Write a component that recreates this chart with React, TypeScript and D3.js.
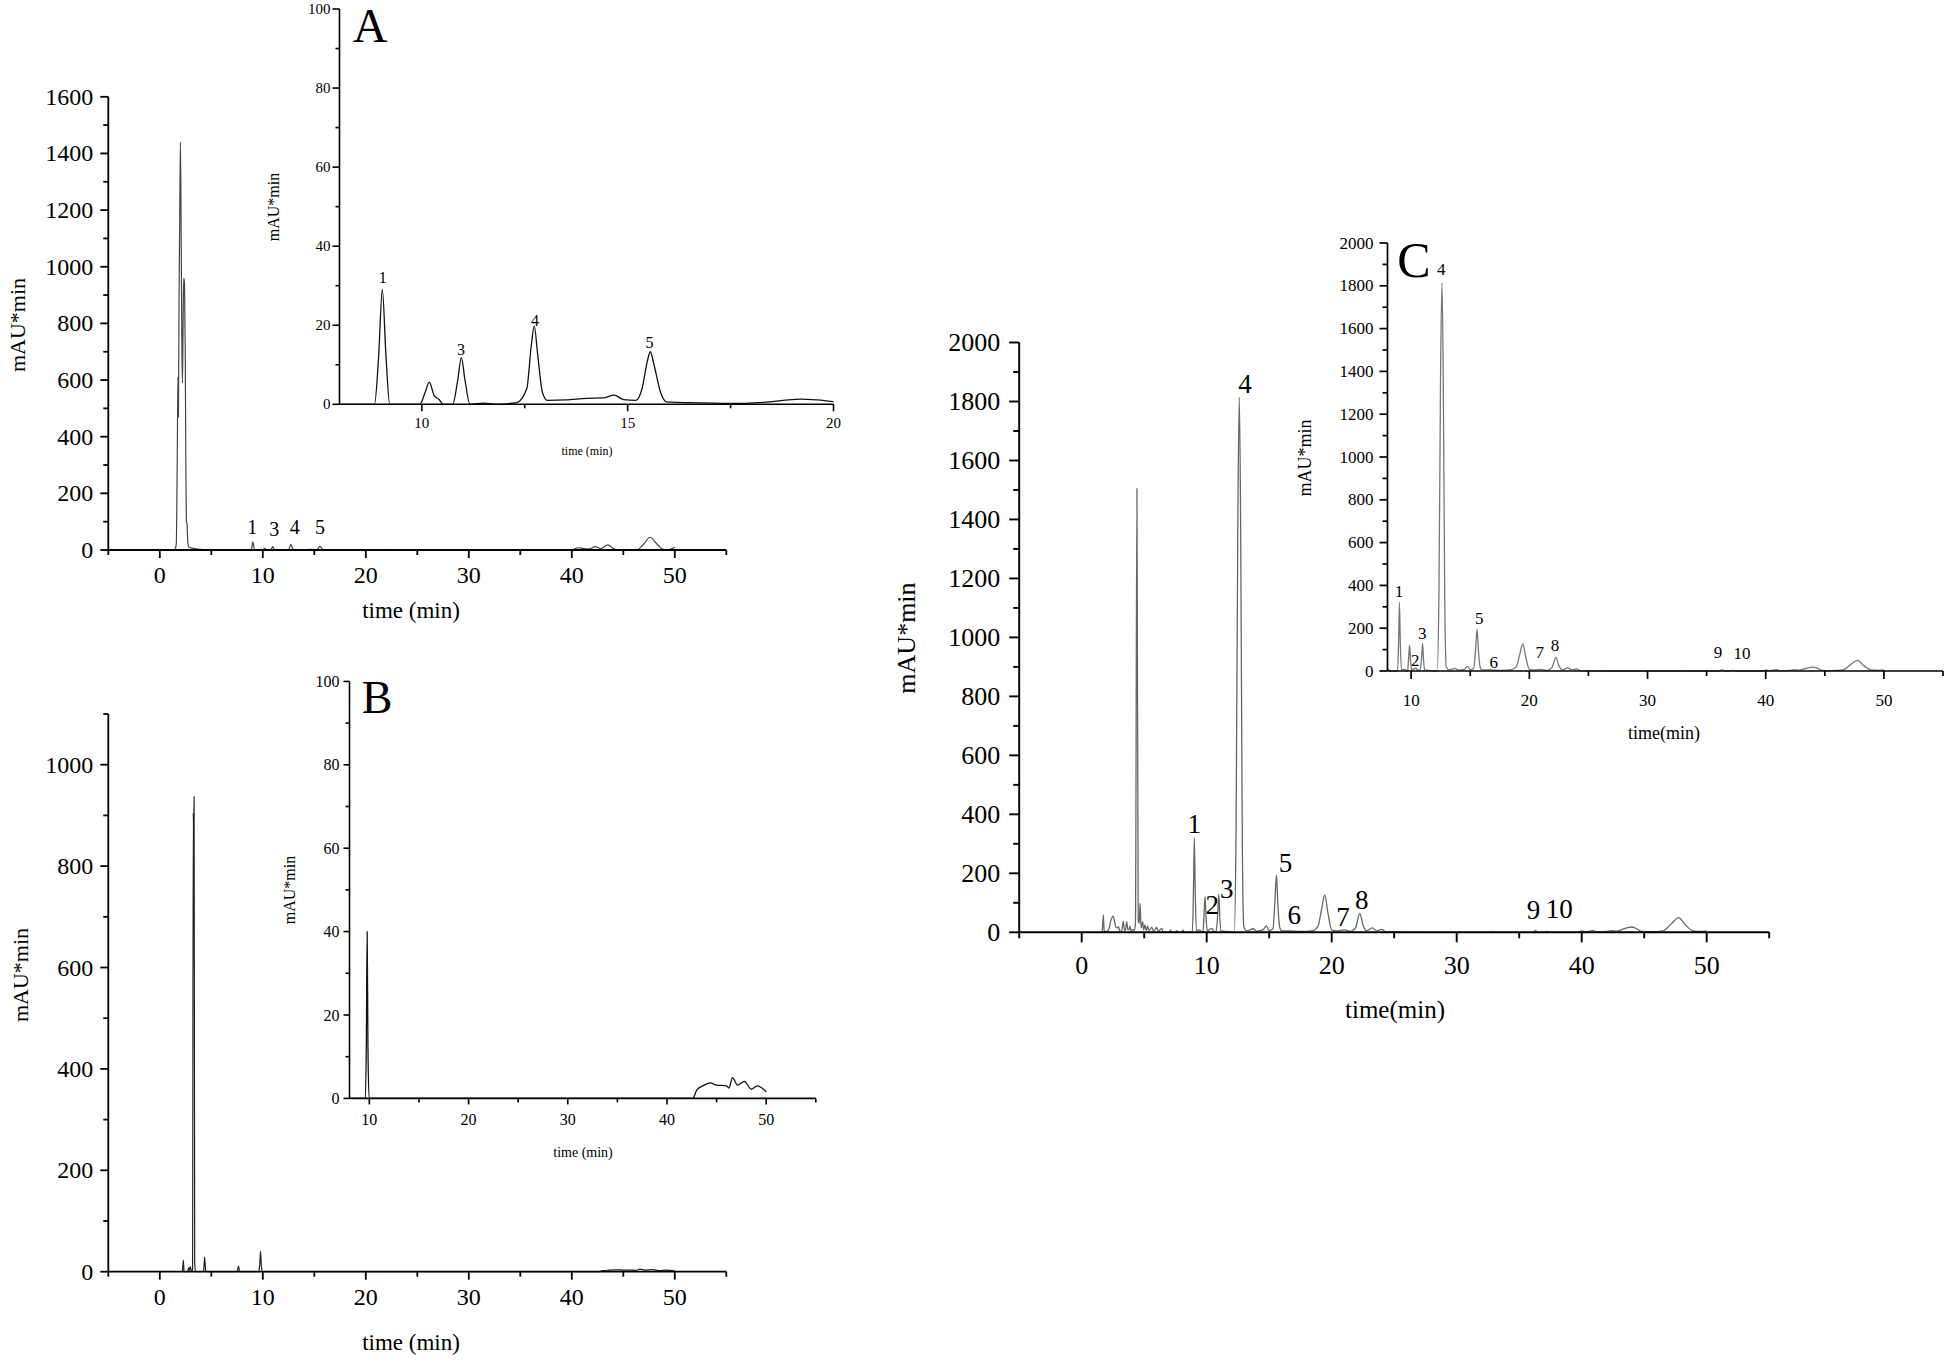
import React from "react";
import * as d3 from "d3";

type Pt = [number, number];
type PeakLabel = { text: string; t: number; v: number };

// ---------- DATA ----------
// Sample A chromatogram (time min, mAU*min)
const sampleA: Pt[] = [
  [1.45, 0], [1.6, 20], [1.7, 350], [1.76, 610], [1.81, 470], [1.87, 900], [1.93, 1150], [2.0, 1440],
  [2.05, 1250], [2.1, 960], [2.15, 700], [2.2, 590], [2.26, 800], [2.32, 960], [2.4, 940], [2.47, 700],
  [2.53, 300], [2.58, 100], [2.64, 92], [2.7, 40], [2.8, 12], [3.0, 8], [3.4, 5], [4.0, 2], [4.6, 0],
  [8.85, 0], [8.95, 12], [9.04, 29], [9.13, 12], [9.22, 0],
  [9.95, 0], [10.08, 3], [10.18, 5.6], [10.3, 2.2], [10.42, 1.2], [10.52, 0],
  [10.75, 0], [10.87, 6], [10.96, 11.8], [11.05, 6], [11.17, 0], [11.5, 0.3], [11.8, 0], [12.3, 0.4],
  [12.55, 4], [12.66, 15], [12.73, 19.8], [12.82, 12], [12.93, 3], [13.05, 1.0], [13.5, 1.1], [14.0, 1.5],
  [14.4, 1.6], [14.67, 2.3], [14.9, 1.2], [15.2, 1.0],
  [15.35, 4], [15.48, 11], [15.55, 13.3], [15.64, 10], [15.8, 3], [15.95, 0.6], [16.5, 0.4], [17.5, 0.2],
  [18.3, 0.5], [19.2, 1.3], [19.6, 1.1], [20, 0.7], [20.6, 0.3],
  [22.0, 0], [22.2, 2], [22.4, 0],
  [40.0, 0], [40.6, 8], [41.2, 5], [41.7, 4], [42.3, 12], [42.8, 5], [43.5, 18], [44.0, 6], [44.5, 0],
  [46.3, 0], [47.0, 22], [47.6, 45], [48.2, 24], [48.8, 3], [49.3, 0], [49.8, 6], [50.0, 10],
];

// Sample B chromatogram
const sampleB: Pt[] = [
  [2.2, 0], [2.28, 23], [2.36, 0], [2.7, 0], [2.8, 8], [2.88, 3], [2.97, 10], [3.08, 0], [3.18, 4],
  [3.25, 905], [3.29, 860], [3.33, 937], [3.39, 15], [3.5, 0],
  [4.25, 0], [4.35, 29], [4.45, 3], [4.55, 0],
  [7.5, 0], [7.64, 11], [7.75, 0],
  [9.6, 0], [9.7, 14], [9.78, 40], [9.86, 12], [9.98, 0],
  [42.6, 0], [43.0, 2.0], [43.6, 3.0], [44.35, 3.7], [45.0, 3.2], [46.0, 3.0], [46.25, 2.5], [46.6, 5.0],
  [47.1, 3.2], [47.8, 4.1], [48.5, 2.2], [49.1, 3.0], [50.0, 1.6],
];

// Sample C chromatogram
const sampleC: Pt[] = [
  [1.65, 0], [1.73, 59], [1.8, 3], [2.0, 3], [2.15, 8], [2.3, 35], [2.5, 55], [2.62, 40], [2.72, 18],
  [2.85, 15], [2.95, 19], [3.05, 4], [3.2, 5], [3.33, 38], [3.42, 6], [3.5, 8], [3.6, 36], [3.7, 8],
  [3.8, 10], [3.87, 21], [3.95, 5], [4.1, 10], [4.2, 6], [4.3, 30], [4.42, 1505], [4.52, 40], [4.6, 30],
  [4.67, 98], [4.75, 15], [4.88, 36], [4.95, 8], [5.07, 25], [5.15, 6], [5.28, 21], [5.38, 5], [5.6, 17],
  [5.75, 4], [6.0, 17], [6.12, 3], [6.4, 13], [6.5, 2], [6.8, 0],
  [7.0, 0], [7.1, 7], [7.2, 0], [7.5, 0], [7.6, 6], [7.7, 0], [8.0, 0], [8.1, 7], [8.2, 0],
  [8.85, 0], [8.94, 140], [9.01, 320], [9.08, 140], [9.18, 5], [9.4, 8], [9.7, 0], [9.78, 55], [9.87, 121],
  [9.96, 40], [10.06, 5], [10.25, 10], [10.4, 13], [10.55, 4], [10.75, 2], [10.88, 60], [10.97, 129],
  [11.05, 50], [11.15, 5], [11.5, 3],
  [12.2, 0], [12.35, 350], [12.5, 1450], [12.61, 1814], [12.72, 1350], [12.85, 300], [12.97, 20], [13.2, 5],
  [13.73, 12], [14.0, 4], [14.5, 8], [14.77, 22], [15.0, 6], [15.3, 12], [15.45, 100], [15.58, 194],
  [15.7, 90], [15.85, 15], [16.0, 5], [16.74, 5], [17.5, 3], [18.5, 6], [18.9, 20], [19.2, 80], [19.45, 127],
  [19.7, 65], [20.0, 8], [20.5, 5], [21.0, 8], [21.5, 3], [21.9, 15], [22.25, 64], [22.5, 25], [22.8, 5],
  [23.26, 15], [23.6, 5], [24.0, 10], [24.3, 2], [25, 1],
  [28, 0], [32.7, 0], [32.9, 2], [33.1, 0], [36.1, 0], [36.3, 6], [36.5, 0], [37.0, 0], [37.2, 3], [37.5, 0],
  [39.8, 0], [40.0, 5], [40.3, 1], [40.9, 6], [41.3, 1], [42.0, 3], [42.4, 6], [42.8, 4], [43.6, 15],
  [44.0, 18], [44.4, 12], [44.8, 3], [45.5, 2], [46.5, 5], [47.2, 30], [47.75, 50], [48.3, 25], [48.9, 5],
  [49.5, 3], [50.0, 5],
];

// Peak annotations
const labelsAMain: PeakLabel[] = [
  { text: "1", t: 8.97, v: 80 }, { text: "3", t: 11.1, v: 74 },
  { text: "4", t: 13.1, v: 82 }, { text: "5", t: 15.55, v: 82 },
];
const labelsAInset: PeakLabel[] = [
  { text: "1", t: 9.05, v: 32 }, { text: "3", t: 10.95, v: 13.8 },
  { text: "4", t: 12.75, v: 21.2 }, { text: "5", t: 15.53, v: 15.6 },
];
const labelsCMain: PeakLabel[] = [
  { text: "1", t: 9.0, v: 366 }, { text: "2", t: 10.45, v: 92 }, { text: "3", t: 11.6, v: 147 },
  { text: "4", t: 13.07, v: 1858 }, { text: "5", t: 16.3, v: 236 }, { text: "6", t: 17.0, v: 58 },
  { text: "7", t: 20.9, v: 53 }, { text: "8", t: 22.4, v: 108 }, { text: "9", t: 36.15, v: 77 },
  { text: "10", t: 38.2, v: 80 },
];
const labelsCInset: PeakLabel[] = [
  { text: "1", t: 8.98, v: 373 }, { text: "2", t: 10.34, v: 48 }, { text: "3", t: 10.95, v: 173 },
  { text: "4", t: 12.54, v: 1876 }, { text: "5", t: 15.76, v: 246 }, { text: "6", t: 17.0, v: 40 },
  { text: "7", t: 20.88, v: 85 }, { text: "8", t: 22.17, v: 120 }, { text: "9", t: 35.97, v: 85 },
  { text: "10", t: 38.0, v: 80 },
];

// Tick values
const mainXMajor = [0, 10, 20, 30, 40, 50];
const mainXMinor = [-5, 5, 15, 25, 35, 45, 55];
const insetXMajorLong = [10, 20, 30, 40, 50];
const insetXMinorLong = [15, 25, 35, 45, 55];
const insetAXMajor = [10, 15, 20];
const insetAXMinor = [12.5, 17.5];
const yMajorA = [0, 200, 400, 600, 800, 1000, 1200, 1400, 1600];
const yMajorB = [0, 200, 400, 600, 800, 1000];
const yMajorC = [0, 200, 400, 600, 800, 1000, 1200, 1400, 1600, 1800, 2000];
const yMajor100 = [0, 20, 40, 60, 80, 100];
const yMinor100 = [10, 30, 50, 70, 90];

const FONT = "'Liberation Serif','Times New Roman',Times,serif";

interface Spec {
  id: string;
  px: [number, number];
  py: [number, number];
  xd: [number, number];
  yd: [number, number];
  xMajor: number[];
  xMinor: number[];
  yMajor: number[];
  yMinor: number[];
  majorLen: number;
  minorLen: number;
  tickFont: number;
  xLabelDy: number;
  yLabelGap: number;
  axisW: number;
  color: string;
  lineW: number;
  labelFont: number;
}

function Panel({ spec, data, labels }: { spec: Spec; data: Pt[]; labels: PeakLabel[] }) {
  const xs = d3.scaleLinear().domain(spec.xd).range(spec.px);
  const ys = d3.scaleLinear().domain(spec.yd).range(spec.py);
  const line = d3
    .line<Pt>()
    .x((d) => xs(d[0]))
    .y((d) => ys(d[1]))
    .curve(d3.curveMonotoneX);
  const x0 = spec.px[0];
  const x1 = spec.px[1];
  const yb = spec.py[0];
  const yt = spec.py[1];
  return (
    <g>
      <defs>
        <clipPath id={spec.id}>
          <rect x={x0} y={yt - 2} width={x1 - x0} height={yb - yt + 3} />
        </clipPath>
      </defs>
      <path
        d={line(data) || ""}
        fill="none"
        stroke={spec.color}
        strokeWidth={spec.lineW}
        strokeLinejoin="round"
        clipPath={`url(#${spec.id})`}
      />
      <line x1={x0} x2={x1} y1={yb} y2={yb} stroke="#000" strokeWidth={spec.axisW} />
      <line x1={x0} x2={x0} y1={yb} y2={yt} stroke="#000" strokeWidth={spec.axisW} />
      {spec.xMajor.map((v) => (
        <g key={"xM" + v}>
          <line x1={xs(v)} x2={xs(v)} y1={yb} y2={yb + spec.majorLen} stroke="#000" strokeWidth={spec.axisW} />
          <text
            x={xs(v)}
            y={yb + spec.xLabelDy}
            textAnchor="middle"
            dominantBaseline="central"
            fontFamily={FONT}
            fontSize={spec.tickFont}
          >
            {v}
          </text>
        </g>
      ))}
      {spec.xMinor.map((v) => (
        <line key={"xm" + v} x1={xs(v)} x2={xs(v)} y1={yb} y2={yb + spec.minorLen} stroke="#000" strokeWidth={spec.axisW} />
      ))}
      {spec.yMajor.map((v) => (
        <g key={"yM" + v}>
          <line x1={x0 - spec.majorLen} x2={x0} y1={ys(v)} y2={ys(v)} stroke="#000" strokeWidth={spec.axisW} />
          <text
            x={x0 - spec.majorLen - spec.yLabelGap}
            y={ys(v)}
            textAnchor="end"
            dominantBaseline="central"
            fontFamily={FONT}
            fontSize={spec.tickFont}
          >
            {v}
          </text>
        </g>
      ))}
      {spec.yMinor.map((v) => (
        <line key={"ym" + v} x1={x0 - spec.minorLen} x2={x0} y1={ys(v)} y2={ys(v)} stroke="#000" strokeWidth={spec.axisW} />
      ))}
      {labels.map((l, i) => (
        <text
          key={"pl" + i}
          x={xs(l.t)}
          y={ys(l.v)}
          textAnchor="middle"
          dominantBaseline="central"
          fontFamily={FONT}
          fontSize={spec.labelFont}
        >
          {l.text}
        </text>
      ))}
    </g>
  );
}

function Title({ x, y, size, text, rotate }: { x: number; y: number; size: number; text: string; rotate?: boolean }) {
  return (
    <text
      x={x}
      y={y}
      textAnchor="middle"
      dominantBaseline="central"
      fontFamily={FONT}
      fontSize={size}
      transform={rotate ? `rotate(-90 ${x} ${y})` : undefined}
    >
      {text}
    </text>
  );
}

export default function App() {
  const minorA = d3.range(100, 1600, 200);
  const minorB = d3.range(100, 1200, 200);
  const minorC = d3.range(100, 2000, 200);

  const aMain: Spec = {
    id: "cAM", px: [108.3, 726.3], py: [550, 96.8], xd: [-5, 55], yd: [0, 1600],
    xMajor: mainXMajor, xMinor: mainXMinor, yMajor: yMajorA, yMinor: minorA,
    majorLen: 8, minorLen: 5, tickFont: 24, xLabelDy: 25, yLabelGap: 7, axisW: 1.8,
    color: "#444", lineW: 1.2, labelFont: 20,
  };
  const aInset: Spec = {
    id: "cAI", px: [339.5, 833.5], py: [404.3, 9], xd: [8, 20], yd: [0, 100],
    xMajor: insetAXMajor, xMinor: insetAXMinor, yMajor: yMajor100, yMinor: yMinor100,
    majorLen: 7, minorLen: 4, tickFont: 15, xLabelDy: 19, yLabelGap: 2, axisW: 1.6,
    color: "#111", lineW: 1.3, labelFont: 16,
  };
  const bMain: Spec = {
    id: "cBM", px: [108.3, 726.3], py: [1271.7, 1271.7 - 1100 * 0.507], xd: [-5, 55], yd: [0, 1100],
    xMajor: mainXMajor, xMinor: mainXMinor, yMajor: yMajorB, yMinor: minorB,
    majorLen: 8, minorLen: 5, tickFont: 24, xLabelDy: 25, yLabelGap: 7, axisW: 1.8,
    color: "#222", lineW: 1.2, labelFont: 20,
  };
  const bInset: Spec = {
    id: "cBI", px: [349.5, 815.8], py: [1098.4, 681.4], xd: [8, 55], yd: [0, 100],
    xMajor: insetXMajorLong, xMinor: insetXMinorLong, yMajor: yMajor100, yMinor: yMinor100,
    majorLen: 6, minorLen: 4, tickFont: 16, xLabelDy: 21, yLabelGap: 4, axisW: 1.6,
    color: "#111", lineW: 1.3, labelFont: 16,
  };
  const cMain: Spec = {
    id: "cCM", px: [1019.2, 1769.2], py: [932.3, 342.5], xd: [-5, 55], yd: [0, 2000],
    xMajor: mainXMajor, xMinor: mainXMinor, yMajor: yMajorC, yMinor: minorC,
    majorLen: 10, minorLen: 6, tickFont: 26, xLabelDy: 33, yLabelGap: 9, axisW: 1.9,
    color: "#666", lineW: 1.3, labelFont: 27,
  };
  const cInset: Spec = {
    id: "cCI", px: [1387.5, 1943], py: [671, 243], xd: [8, 55], yd: [0, 2000],
    xMajor: insetXMajorLong, xMinor: insetXMinorLong, yMajor: yMajorC, yMinor: minorC,
    majorLen: 8, minorLen: 5, tickFont: 17, xLabelDy: 29, yLabelGap: 6, axisW: 1.7,
    color: "#777", lineW: 1.3, labelFont: 17,
  };

  return (
    <svg
      width={1946}
      height={1362}
      viewBox="0 0 1946 1362"
      style={{ position: "absolute", left: 0, top: 0, background: "#fff" }}
    >
      <rect x={0} y={0} width={1946} height={1362} fill="#fff" />
      {/* Panel A */}
      <Panel spec={aMain} data={sampleA} labels={labelsAMain} />
      <Title x={411} y={610} size={23} text="time (min)" />
      <Title x={17} y={325} size={22} text="mAU*min" rotate />
      <Panel spec={aInset} data={sampleA} labels={labelsAInset} />
      <Title x={587} y={451} size={12} text="time (min)" />
      <Title x={273} y={207} size={16} text="mAU*min" rotate />
      <text x={370} y={42} textAnchor="middle" fontFamily={FONT} fontSize={48}>A</text>

      {/* Panel B */}
      <Panel spec={bMain} data={sampleB} labels={[]} />
      <Title x={411} y={1342} size={23} text="time (min)" />
      <Title x={20} y={975} size={22} text="mAU*min" rotate />
      <Panel spec={bInset} data={sampleB} labels={[]} />
      <Title x={583} y={1152} size={14} text="time (min)" />
      <Title x={289} y={890} size={16} text="mAU*min" rotate />
      <text x={377} y={713} textAnchor="middle" fontFamily={FONT} fontSize={46}>B</text>

      {/* Panel C */}
      <Panel spec={cMain} data={sampleC} labels={labelsCMain} />
      <Title x={1395} y={1009} size={25} text="time(min)" />
      <Title x={906} y={638} size={26} text="mAU*min" rotate />
      <Panel spec={cInset} data={sampleC} labels={labelsCInset} />
      <Title x={1664} y={733} size={18} text="time(min)" />
      <Title x={1305} y={458} size={18} text="mAU*min" rotate />
      <text x={1414} y={277} textAnchor="middle" fontFamily={FONT} fontSize={50}>C</text>
    </svg>
  );
}
